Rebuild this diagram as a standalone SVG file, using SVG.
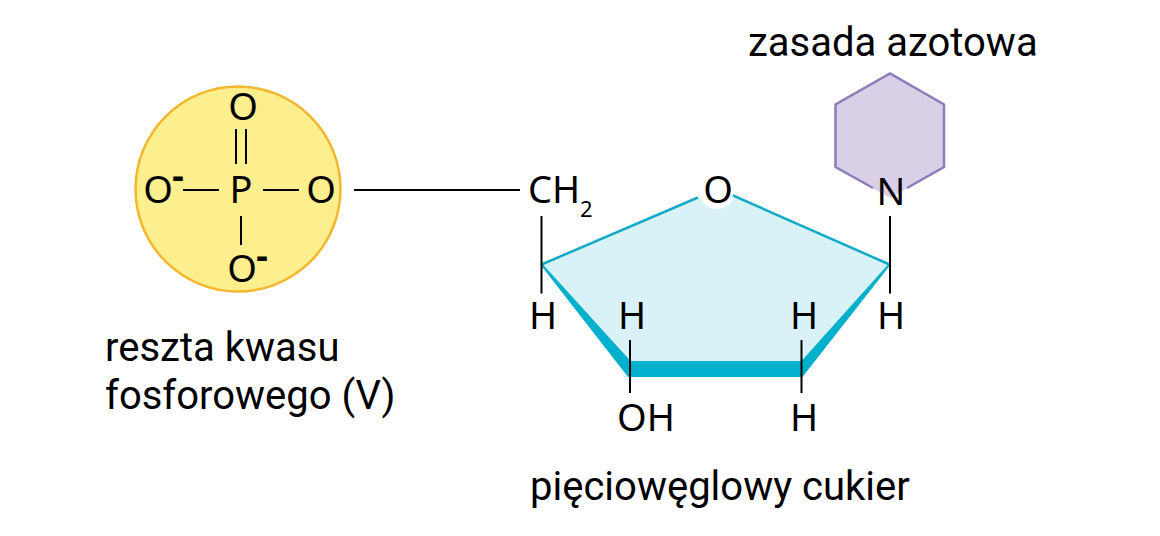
<svg xmlns="http://www.w3.org/2000/svg" width="1160" height="536" viewBox="0 0 1160 536">
<style>
text{fill:#000}
.l{font-family:Roboto,"Liberation Sans",sans-serif;font-size:40px}
.c{font-family:"Noto Sans","Liberation Sans",sans-serif;font-size:38px;text-anchor:middle}
.s{font-family:"Noto Sans","Liberation Sans",sans-serif;font-size:22px}
.m{font-family:"Noto Sans","Liberation Sans",sans-serif;font-size:36px;font-weight:700;text-anchor:middle}
.b{stroke:#000;stroke-width:2;fill:none}
.e{stroke:#12abc6;stroke-width:2.500;fill:none}
</style>
<rect width="1160" height="536" fill="#fff"/>
<g id="phosphate">
<circle cx="238" cy="189" r="102.500" fill="#fdee8e" stroke="#f3b62e" stroke-width="2.500"/>
<text class="c" x="243" y="120">O</text>
<text class="c" x="158" y="203">O</text>
<text class="m" x="178" y="188">-</text>
<text class="c" x="241" y="203">P</text>
<text class="c" x="321" y="203">O</text>
<text class="c" x="242" y="282">O</text>
<text class="m" x="262" y="268">-</text>
</g>
<g id="sugar">
<polygon points="541.500,264.500 716,190 889.500,264.500 801.500,376 629.500,376" fill="#d8f2f7"/>
<path d="M541.500 264.500 628.500 376H802L889.500 264.500 802 362H630Z" fill="#00b0cc" stroke="#00b0cc" stroke-width="2"/>
<circle cx="717" cy="191" r="18" fill="#fff"/>
<path class="e" d="M541.500 264.500 698 197.500M733 195.500 889.500 264.500"/>
<text class="c" x="718" y="203">O</text>
<text class="c" x="543" y="329">H</text>
<text class="c" x="632" y="329">H</text>
<text class="c" x="646" y="431">OH</text>
<text class="c" x="804" y="329">H</text>
<text class="c" x="804" y="431">H</text>
<text class="c" x="891" y="329">H</text>
</g>
<g id="ch2">
<text class="c" x="554" y="203">CH</text>
<text class="s" x="580" y="217">2</text>
</g>
<g id="base">
<polygon points="890,73.500 944,104.500 944,167 890,198 835.500,167 835.500,104.500" fill="#d9d0e8"/>
<path d="M873 188 835.500 167V104.500L890 73.500 944 104.500V167L907 188" fill="none" stroke="#8c7cb8" stroke-width="2.500"/>
<text class="c" x="891" y="205">N</text>
</g>
<g id="labels">
<text class="l" x="748" y="56">zasada azotowa</text>
<text class="l" x="105" y="361">reszta kwasu</text>
<text class="l" x="105" y="409">fosforowego (V)</text>
<text class="l" x="530" y="500">pięciowęglowy cukier</text>
</g>
<g id="connectors">
<path class="b" d="M236 129V164M246 129V164M183 190H219M263 190H299M241 216V245M354 190H520M541.500 216V293.500M630 340V393M801.500 340V393M890 216V293.500"/>
</g>
</svg>
